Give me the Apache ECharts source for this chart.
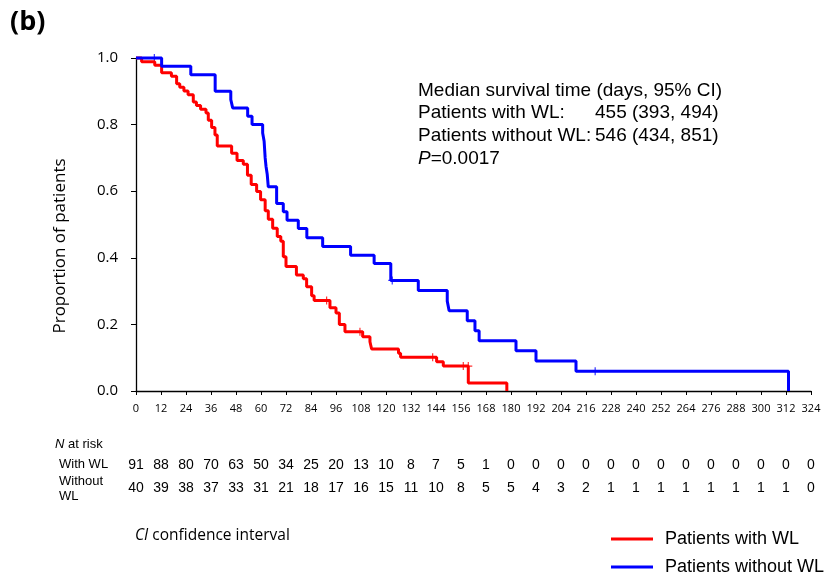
<!DOCTYPE html>
<html>
<head>
<meta charset="utf-8">
<script src="https://cdn.jsdelivr.net/npm/echarts@6/dist/echarts.min.js"></script>
<style>
    html, body { margin: 0; padding: 0; background: #fff; }
    #kmChart { width: 835px; height: 574px; }
</style>
</head>
<body>
<div id="kmChart"></div>
<script>
// survival steps, [day, proportion]
var withWL = [
    [0, 1], [2.7, 0.989], [9, 0.978], [12.3, 0.956], [17, 0.945], [19.5, 0.923], [21, 0.912],
    [23, 0.901], [25, 0.89], [27.5, 0.868], [29, 0.857], [31, 0.846], [33.6, 0.835], [34.7, 0.813],
    [36.3, 0.791], [37.9, 0.769], [39, 0.736], [45.9, 0.714], [48.5, 0.692], [51.5, 0.681],
    [53.5, 0.648], [55.3, 0.62], [57.9, 0.599], [59.8, 0.574], [62, 0.541], [63.5, 0.516],
    [65.6, 0.489], [67.8, 0.464], [69.5, 0.45], [70.7, 0.403], [72, 0.374], [77, 0.348],
    [80.3, 0.337], [81.9, 0.313], [84.3, 0.286], [85.5, 0.272], [93.1, 0.25], [96, 0.234],
    [97.6, 0.2], [100.3, 0.178], [108.8, 0.163], [112.3, 0.148], [113.1, 0.126], [126, 0.113],
    [127, 0.101], [144.3, 0.088], [147.5, 0.075], [159.5, 0.024], [178, 0]
];
var withoutWL = [
    [0, 1], [12.3, 0.975], [26.3, 0.95], [38, 0.9], [45.5, 0.875], [46.4, 0.85], [53.6, 0.825],
    [55.7, 0.8], [60.8, 0.775], [61.5, 0.75], [62, 0.7], [62.4, 0.675], [63, 0.65], [63.5, 0.613],
    [67.5, 0.563], [70.7, 0.538], [72.5, 0.513], [77.9, 0.488], [82, 0.46], [89.6, 0.434],
    [103, 0.408], [114.3, 0.383], [122.3, 0.332], [135.5, 0.302], [149.4, 0.27], [150.3, 0.241],
    [159, 0.211], [162.7, 0.181], [164.7, 0.151], [182.4, 0.121], [192, 0.09], [211.2, 0.059],
    [313.2, 0]
];
// censored marks
var censorWith = [[91.5, 0.272], [107.5, 0.178], [142.4, 0.101], [157.1, 0.075], [159.5, 0.075]];
var censorWithout = [[8.8, 1], [123, 0.332], [220.4, 0.059]];
// number at risk every 12 days
var riskWith = [91, 88, 80, 70, 63, 50, 34, 25, 20, 13, 10, 8, 7, 5, 1, 0, 0, 0, 0, 0, 0, 0, 0, 0, 0, 0, 0, 0];
var riskWithout = [40, 39, 38, 37, 33, 31, 21, 18, 17, 16, 15, 11, 10, 8, 5, 5, 4, 3, 2, 1, 1, 1, 1, 1, 1, 1, 1, 0];

var chart = echarts.init(document.getElementById('kmChart'));
var plusMark = 'path://M5,0L5,10M0,5L10,5';
var arial = 'Liberation Sans, Arial, sans-serif';
var calibri = 'Open Sans, sans-serif';

var riskAxis = function (counts, offset) {
    return {
        type: 'value',
        min: 0,
        max: 324,
        interval: 12,
        position: 'bottom',
        offset: offset,
        axisLine: { show: false },
        axisTick: { show: false },
        splitLine: { show: false },
        axisLabel: {
            margin: 10,
            fontFamily: arial,
            fontSize: 14,
            color: '#000',
            formatter: function (v) {
                return counts[Math.round(v / 12)];
            }
        }
    };
};

var option = {
    animation: false,
    grid: { left: 136, right: 24, top: 58, bottom: 183 },
    xAxis: [
        {
            type: 'value',
            min: 0,
            max: 324,
            interval: 12,
            axisLine: { lineStyle: { color: '#000', width: 1.3 } },
            axisTick: { length: 4, lineStyle: { color: '#000' } },
            splitLine: { show: false },
            axisLabel: { margin: 12, fontFamily: calibri, fontSize: 11, color: '#000' }
        },
        riskAxis(riskWith, 57),
        riskAxis(riskWithout, 80)
    ],
    yAxis: {
        type: 'value',
        min: 0,
        max: 1,
        interval: 0.2,
        axisLine: { show: true, lineStyle: { color: '#000', width: 1.3 } },
        axisTick: { show: true, length: 5, lineStyle: { color: '#000' } },
        splitLine: { show: false },
        axisLabel: {
            margin: 18,
            fontFamily: calibri,
            fontSize: 15,
            color: '#000',
            formatter: function (v) { return v.toFixed(1); }
        }
    },
    legend: {
        orient: 'vertical',
        left: 611,
        top: 528,
        height: 60,
        padding: 0,
        itemWidth: 42,
        itemHeight: 3,
        itemGap: 6,
        icon: 'rect',
        textStyle: { fontFamily: arial, fontSize: 18, color: '#000', lineHeight: 22, padding: [0, 0, 0, 7] },
        data: ['Patients with WL', 'Patients without WL']
    },
    series: [
        {
            name: 'Patients with WL',
            type: 'line',
            step: 'end',
            symbol: 'none',
            clip: false,
            lineStyle: { color: '#ff0000', width: 3 },
            itemStyle: { color: '#ff0000' },
            data: withWL
        },
        {
            name: 'Patients without WL',
            type: 'line',
            step: 'end',
            symbol: 'none',
            clip: false,
            lineStyle: { color: '#0000ff', width: 3 },
            itemStyle: { color: '#0000ff' },
            data: withoutWL
        },
        {
            type: 'scatter',
            symbol: plusMark,
            symbolSize: 8,
            itemStyle: { color: 'none', borderColor: '#ff0000', borderWidth: 1.2 },
            data: censorWith
        },
        {
            type: 'scatter',
            symbol: plusMark,
            symbolSize: 8,
            itemStyle: { color: 'none', borderColor: '#0000ff', borderWidth: 1.2 },
            data: censorWithout
        }
    ],
    graphic: [
        { type: 'text', left: 10, top: 9, style: { text: '(b)', fontFamily: calibri, fontWeight: 'bold', fontSize: 27, fill: '#000' } },
        {
            type: 'text', x: 60, y: 246, rotation: Math.PI / 2,
            style: { text: 'Proportion of patients', fontFamily: calibri, fontSize: 17, fill: '#000', align: 'center', verticalAlign: 'middle' }
        },
        { type: 'text', left: 418, top: 81, style: { text: 'Median survival time (days, 95% CI)', fontFamily: arial, fontSize: 19, fill: '#000' } },
        { type: 'text', left: 418, top: 103, style: { text: 'Patients with WL:', fontFamily: arial, fontSize: 19, fill: '#000' } },
        { type: 'text', left: 595, top: 103, style: { text: '455 (393, 494)', fontFamily: arial, fontSize: 19, fill: '#000' } },
        { type: 'text', left: 418, top: 126, style: { text: 'Patients without WL:', fontFamily: arial, fontSize: 19, fill: '#000' } },
        { type: 'text', left: 595, top: 126, style: { text: '546 (434, 851)', fontFamily: arial, fontSize: 19, fill: '#000' } },
        {
            type: 'text', left: 418, top: 149,
            style: {
                text: '{i|P}=0.0017',
                fontFamily: arial, fontSize: 19, fill: '#000',
                rich: { i: { fontStyle: 'italic', fontFamily: arial, fontSize: 19 } }
            }
        },
        {
            type: 'text', left: 55, top: 438,
            style: {
                text: '{i|N} at risk',
                fontFamily: arial, fontSize: 13, fill: '#000',
                rich: { i: { fontStyle: 'italic', fontFamily: arial, fontSize: 13 } }
            }
        },
        { type: 'text', left: 59, top: 458, style: { text: 'With WL', fontFamily: arial, fontSize: 13, fill: '#000' } },
        { type: 'text', left: 59, top: 474, style: { text: 'Without\nWL', fontFamily: arial, fontSize: 13, lineHeight: 15, fill: '#000' } },
        {
            type: 'text', left: 135, top: 528,
            style: {
                text: '{i|CI} confidence interval',
                fontFamily: calibri, fontSize: 15.5, fill: '#000',
                rich: { i: { fontStyle: 'italic', fontFamily: calibri, fontSize: 15.5 } }
            }
        }
    ]
};
chart.setOption(option);
</script>
</body>
</html>
